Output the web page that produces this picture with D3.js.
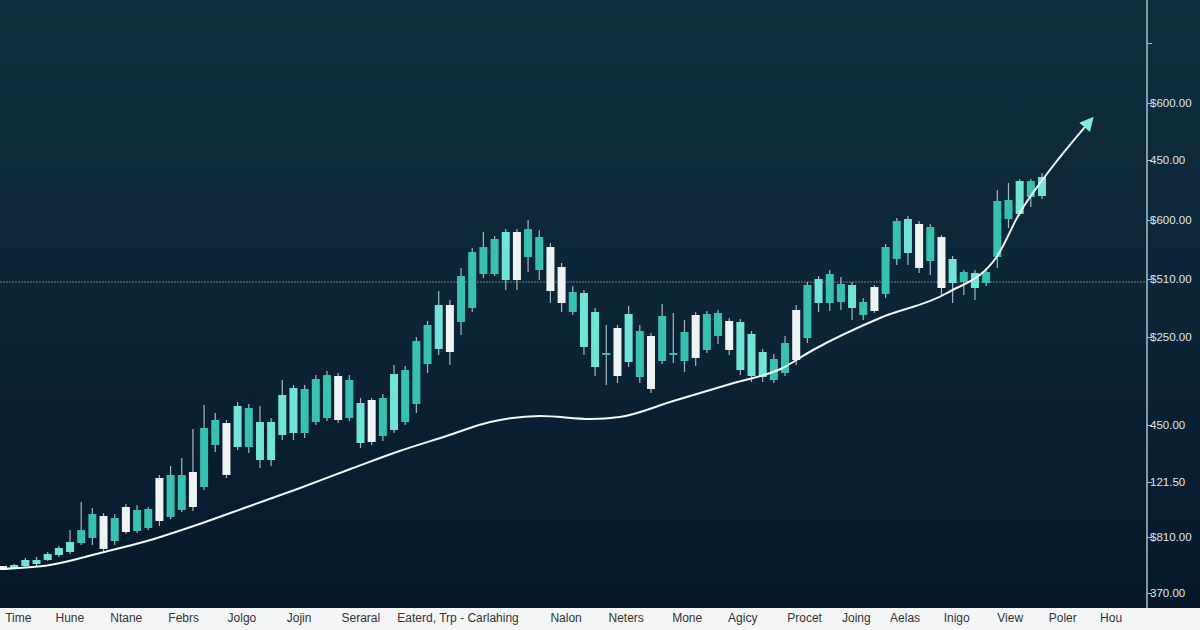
<!DOCTYPE html>
<html><head><meta charset="utf-8">
<script src="https://cdn.jsdelivr.net/npm/d3@7"></script>
<style>html,body{margin:0;padding:0;background:#f3f5f6;} svg{display:block}</style>
</head><body><svg id="c" width="1200" height="630"></svg>
<script>
// ---- data ----
// tone: 0 teal, 1 light teal, 2 white
const tone  = [2,1,1,1,1,1,1,0,0,2, 0,2,0,0,2,0,0,2,0,0, 2,1,0,1,1,1,1,0,0,0, 2,0,1,2,0,1,0,0,0,1, 2,0,0,0,0,1,2,0,0,2, 2,0,1,1,0,2,1,0,2,0, 0,0,2,0,0,2,1,1,1,0, 0,2,0,1,0,0,1,0,2,0, 0,1,2,0,2,1,0,1,0,0, 0,1,0,1];
const open  = [134,132,134,136,140,145,148,157,162,184, 159,193,169,172,222,183,190,228,213,255, 277,253,253,240,240,265,267,267,278,282, 324,282,257,300,264,270,278,296,336,351, 395,378,392,426,426,420,468,443,430,453, 433,388,353,333,345,372,338,323,364,339, 345,339,385,350,364,379,330,324,323,320, 327,390,362,397,397,398,392,385,413,406, 441,447,476,439,463,417,418,412,417,443, 481,486,503,504];
const close = [130,135,140,140,146,152,158,170,186,151, 182,168,190,191,179,225,225,193,272,280, 225,294,292,278,278,305,312,311,321,325, 280,320,297,258,302,326,330,359,375,395, 348,424,448,453,461,468,420,471,463,409, 397,408,407,388,347,324,386,369,311,384, 347,368,342,386,387,350,378,366,348,341, 357,340,415,421,426,416,415,398,389,453, 479,481,432,473,412,441,428,427,428,499, 500,519,519,523];
const high  = [134,136,142,143,148,154,170,198,192,187, 186,196,195,193,225,234,242,271,295,287, 280,298,296,294,282,320,315,315,325,329, 327,325,302,302,306,335,334,363,379,409, 400,432,452,468,464,471,471,480,470,457, 437,414,410,392,375,375,394,375,367,396, 387,380,388,389,390,382,381,369,351,346, 364,395,418,424,430,423,418,402,415,456, 482,484,479,476,465,444,430,430,432,510, 517,521,521,527];
const low   = [130,131,133,134,139,143,146,155,155,149, 155,166,167,170,174,181,188,189,210,248, 222,250,247,232,234,260,260,262,275,279, 277,279,252,255,259,267,275,287,327,345, 335,365,388,422,424,410,410,428,420,397, 388,385,345,324,315,317,333,317,307,336, 337,328,334,347,356,345,325,318,318,317, 324,335,357,388,389,390,380,380,387,402, 435,435,427,425,405,397,405,400,414,432, 472,484,493,501];
// moving-average line (time index, value)
const maIdx = [-0.3,4.2,8.7,13.2,17.6,22.1,26.6,31.1,35.5,39.7,43.6,48.1,52.6,55.2,60,65.4,69.6,72.5,78.5,84.5,89,91,93.5,97.3];
const maVal = [131,135,147,160,176,194,212,231,249,264,278,284,281,283,299,317,331,350,382,407,444,487,527,579];
// reference level
const refLevel = 418;
// right axis ticks
const yTickVals   = [657,597,540,480,421,363,275,218,163,107];
const yTickLabels = ["","$600.00","450.00","$600.00","$510.00","$250.00","450.00","121.50","$810.00","370.00"];
// bottom labels (time index where each label starts)
const xLabels = ["Time","Hune","Ntane","Febrs","Jolgo","Jojin","Seraral","Eaterd, Trp - Carlahing","Nalon","Neters","Mone","Agicy","Procet","Joing","Aelas","Inigo","View","Poler","Hou"];
const xLabelIdx = [0.2,4.7,9.6,14.8,20.1,25.4,30.3,35.3,49,54.2,59.9,64.9,70.2,75.1,79.4,84.2,89,93.6,98.2];

// ---- drawing ----
const svg = d3.select("#c");
const W = 1200, plotBottom = 608, axisX = 1147;
const x = d3.scaleLinear().domain([0, 93]).range([3, 1042]);
const y = d3.scaleLinear().domain([70, 700]).range([630, 0]);
const toneFill = ["#38c1b0", "#72e4d7", "#eef4f4"];
const bw = 8;

const defs = svg.append("defs");
const g = defs.append("linearGradient").attr("id","bg").attr("x1",0).attr("y1",0).attr("x2",0).attr("y2",1);
g.append("stop").attr("offset","0").attr("stop-color","#0f2e3e");
g.append("stop").attr("offset","0.5").attr("stop-color","#0b2537");
g.append("stop").attr("offset","1").attr("stop-color","#06182a");
defs.append("marker").attr("id","arrow").attr("viewBox","0 0 10 10").attr("refX",6).attr("refY",5)
  .attr("markerWidth",7).attr("markerHeight",7).attr("orient","auto").attr("markerUnits","strokeWidth")
  .append("path").attr("d","M0,0 L10,5 L0,10 z").attr("fill","#86e8df");

svg.append("rect").attr("x",0).attr("y",plotBottom).attr("width",W).attr("height",630-plotBottom).attr("fill","#f3f5f6");
svg.append("rect").attr("x",0).attr("y",0).attr("width",W).attr("height",plotBottom).attr("fill","url(#bg)");

// reference line
svg.append("line").attr("x1",0).attr("x2",axisX).attr("y1",y(refLevel)).attr("y2",y(refLevel))
  .attr("stroke","#8aa3ad").attr("stroke-width",1).attr("stroke-dasharray","2,1").attr("opacity",0.75);

// candles
const idx = d3.range(open.length);
const cg = svg.append("g");
cg.selectAll("line.w").data(idx).join("line").attr("class","w")
  .attr("x1", i => x(i)).attr("x2", i => x(i))
  .attr("y1", i => y(high[i])).attr("y2", i => y(low[i]))
  .attr("stroke", "#a3b8bf").attr("stroke-width", 1.2);
cg.selectAll("rect").data(idx).join("rect")
  .attr("x", i => x(i) - bw/2).attr("width", bw)
  .attr("y", i => y(Math.max(open[i], close[i])))
  .attr("height", i => Math.max(1.5, Math.abs(y(open[i]) - y(close[i]))))
  .attr("fill", i => toneFill[tone[i]]);

// moving average with arrow
const ma = maIdx.map((d,i) => [x(d), y(maVal[i])]);
svg.append("path").attr("d", d3.line().curve(d3.curveMonotoneX)(ma))
  .attr("fill","none").attr("stroke","#f2f7f7").attr("stroke-width",2)
  .attr("marker-end","url(#arrow)");

// right axis
const yAxis = d3.axisRight(y).tickValues(yTickVals).tickSize(5).tickPadding(0)
  .tickFormat((d,i) => yTickLabels[i]);
const ax = svg.append("g").attr("transform", `translate(${axisX},0)`).call(yAxis);
ax.select(".domain").attr("d", `M0,0V${plotBottom}`).attr("stroke","#a9c0ca").attr("stroke-width",1.5);
ax.selectAll(".tick line").attr("stroke","#a9c0ca");
ax.selectAll(".tick text").attr("fill","#dfe8ee").attr("font-family","Liberation Sans, Arial, sans-serif")
  .attr("font-size",11.5).attr("x",3);

// bottom labels
svg.append("g").selectAll("text").data(xLabels).join("text")
  .attr("x", (d,i) => x(xLabelIdx[i])).attr("y", 622)
  .attr("font-family","Liberation Sans, Arial, sans-serif").attr("font-size",12)
  .attr("fill","#333").text(d => d);
</script></body></html>
